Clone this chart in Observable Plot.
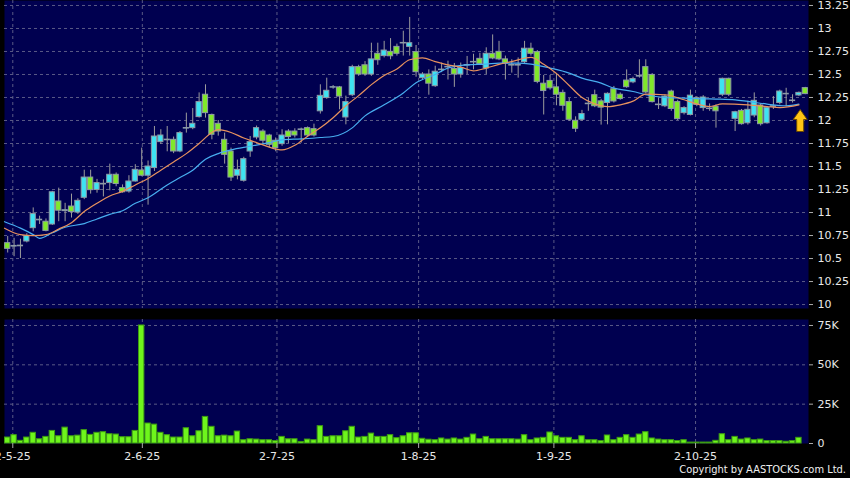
<!DOCTYPE html>
<html><head><meta charset="utf-8">
<script src="https://cdn.jsdelivr.net/npm/d3@7"></script>
<script src="https://cdn.jsdelivr.net/npm/@observablehq/plot@0.6"></script>
<style>
html,body{margin:0;padding:0;background:#000;}
#wrap{position:relative;width:850px;height:478px;overflow:hidden;background:#000;}
#wrap svg{display:block;}
#copy{position:absolute;right:4px;top:463px;color:#f0f0f0;font-size:11px;line-height:13px;font-family:"DejaVu Sans Condensed","DejaVu Sans",sans-serif;white-space:nowrap;}
</style></head><body><div id="wrap"><div id="copy">Copyright by AASTOCKS.com Ltd.</div></div>
<script>
// ---- data (price in HKD, volume in thousands) ----
const opens = [10.667,10.63,10.64,10.685,10.83,10.915,10.90,10.87,11.12,11.015,
11.065,11.0,11.16,11.38,11.245,11.305,11.32,11.41,11.265,11.228,
11.337,11.457,11.40,11.483,11.765,11.785,11.79,11.663,11.912,11.917,
12.037,12.28,12.06,11.964,11.79,11.663,11.40,11.345,11.663,11.815,
11.88,11.837,11.78,11.743,11.88,11.88,11.897,11.917,11.906,12.10,
12.244,12.357,12.36,12.033,12.275,12.58,12.60,12.50,12.725,12.70,
12.746,12.80,12.837,12.80,12.743,12.46,12.50,12.373,12.547,12.577,
12.56,12.50,12.597,12.637,12.67,12.565,12.725,12.746,12.664,12.603,
12.597,12.634,12.78,12.743,12.40,12.43,12.36,12.30,12.20,11.997,
12.008,12.177,12.275,12.208,12.19,12.34,12.28,12.434,12.415,12.477,
12.58,12.495,12.173,12.155,12.315,12.20,12.08,12.06,12.243,12.135,
12.124,12.15,12.28,12.453,12.018,12.105,11.97,12.054,12.163,11.97,
12.149,12.19,12.284,12.211,12.272,12.352];
const closes = [10.605,10.637,10.633,10.745,10.983,10.922,10.80,11.22,11.02,11.025,
11.005,11.127,11.38,11.243,11.32,11.312,11.41,11.31,11.22,11.337,
11.464,11.40,11.50,11.826,11.837,11.792,11.663,11.863,11.918,11.964,
12.20,12.08,11.845,11.88,11.627,11.38,11.464,11.58,11.765,11.917,
11.78,11.736,11.70,11.837,11.82,11.837,11.903,11.837,11.837,12.268,
12.323,12.362,12.26,12.20,12.58,12.50,12.50,12.664,12.655,12.76,
12.698,12.725,12.843,12.84,12.525,12.50,12.40,12.53,12.553,12.583,
12.50,12.57,12.603,12.631,12.613,12.725,12.674,12.664,12.62,12.597,
12.603,12.78,12.725,12.42,12.32,12.35,12.28,12.16,12.008,11.91,
12.07,12.183,12.155,12.14,12.29,12.207,12.233,12.362,12.45,12.483,
12.305,12.20,12.167,12.26,12.125,12.015,12.135,12.27,12.17,12.25,
12.13,12.10,12.453,12.28,12.09,11.96,12.116,12.214,11.96,12.135,
12.155,12.315,12.29,12.217,12.30,12.287];
const highs = [10.74,10.72,10.71,10.77,11.05,10.96,10.93,11.23,11.265,11.10,
11.20,11.15,11.46,11.46,11.36,11.355,11.526,11.43,11.30,11.40,
11.52,11.70,11.56,11.935,11.90,11.935,11.82,11.88,12.08,12.13,
12.30,12.388,12.07,12.00,11.863,11.70,11.57,11.60,11.826,11.94,
11.90,11.85,11.81,11.90,11.90,11.91,11.917,11.93,11.96,12.388,
12.46,12.38,12.37,12.265,12.60,12.60,12.64,12.84,12.84,12.86,
12.89,12.83,12.97,13.12,12.815,12.52,12.55,12.59,12.624,12.645,
12.62,12.624,12.696,12.72,12.73,12.79,12.93,12.86,12.70,12.66,
12.68,12.86,12.84,12.76,12.49,12.49,12.50,12.33,12.24,12.04,
12.11,12.24,12.33,12.23,12.30,12.37,12.30,12.55,12.47,12.66,
12.66,12.51,12.24,12.28,12.33,12.22,12.15,12.33,12.26,12.27,
12.18,12.17,12.46,12.46,12.10,12.12,12.21,12.30,12.18,12.15,
12.26,12.33,12.35,12.28,12.31,12.36];
const lows = [10.56,10.52,10.50,10.67,10.79,10.87,10.79,10.86,10.90,10.90,
10.94,10.98,11.14,11.20,11.21,11.17,11.236,11.28,11.21,11.21,
11.33,11.39,11.08,11.446,11.74,11.66,11.64,11.65,11.863,11.90,
12.026,12.026,11.79,11.83,11.526,11.337,11.355,11.33,11.60,11.79,
11.75,11.70,11.66,11.72,11.75,11.81,11.754,11.82,11.82,12.07,
12.23,12.34,12.116,11.953,12.26,12.48,12.48,12.48,12.60,12.68,
12.66,12.70,12.70,12.70,12.47,12.44,12.275,12.36,12.52,12.44,
12.36,12.46,12.50,12.55,12.60,12.50,12.66,12.65,12.44,12.515,
12.46,12.62,12.70,12.40,12.06,12.33,12.16,12.10,11.99,11.87,
11.99,12.10,12.14,11.95,11.953,12.19,12.22,12.35,12.40,12.46,
12.29,12.19,12.12,12.14,12.10,12.00,12.06,12.05,12.15,12.10,
12.10,11.917,12.26,12.26,11.88,11.95,11.95,12.03,11.94,11.96,
12.12,12.17,12.15,12.19,12.26,12.28];
const volumesK = [3.8,5.3,1.7,3.8,6.8,2.7,4.2,8.0,4.6,10.1,
4.6,5.0,8.5,5.5,6.8,7.2,5.9,5.7,4.0,4.0,
8.0,75.0,12.7,12.0,6.8,5.3,3.8,3.8,9.7,4.6,
7.8,16.9,10.6,4.6,5.0,4.6,7.6,2.1,2.7,2.5,
2.1,2.1,1.5,4.2,2.7,2.7,1.0,2.5,2.1,11.0,
4.2,4.6,4.6,7.8,10.6,3.8,4.2,6.3,4.2,4.2,
5.3,3.4,4.6,6.5,6.5,3.0,2.4,2.1,3.2,2.5,
3.2,2.5,3.6,5.7,2.7,4.2,2.7,2.7,2.7,2.7,
2.5,5.3,2.1,3.2,3.6,7.0,4.6,3.6,3.6,2.1,
4.6,2.1,2.1,1.5,5.1,2.1,3.6,5.3,3.6,5.7,
7.2,3.2,2.5,2.1,2.1,1.5,2.1,0.6,0.6,0.6,
0.6,1.7,5.9,2.1,4.2,2.5,3.2,2.1,2.5,1.5,
1.5,1.5,1.1,1.5,3.6,0];
// moving averages: [candle index, value]
const ma10Idx = [-0.5,2,4,6,8,10,12,14,16,18,20,22,24,26,28,30,32,33,35,37,39,41,43,45,47,49,51,53,55,57,59,61,63,65,67,69,71,73,75,77,79,82,84,86,88,90,92,94,96,98,100,103,106,108,110,112,116,119,121,124];
const ma10Val = [10.83,10.76,10.75,10.76,10.82,10.89,11.01,11.10,11.18,11.23,11.30,11.37,11.46,11.55,11.64,11.75,11.87,11.90,11.87,11.81,11.76,11.71,11.68,11.73,11.83,11.92,12.03,12.16,12.27,12.39,12.49,12.56,12.66,12.68,12.64,12.605,12.58,12.54,12.57,12.61,12.64,12.685,12.61,12.51,12.38,12.25,12.18,12.15,12.17,12.21,12.287,12.28,12.225,12.18,12.152,12.18,12.17,12.152,12.14,12.17];
const ma20Idx = [-0.5,2,4,5,7,9,12,14,16,18,20,22,25,27,29,31,33,35,38,41,43,46,49,51,54,56,59,62,64,67,69,72,75,77,80,82,85,88,90,93,95,98,100,103,106,109,111,114,116,119,122,124];
const ma20Val = [10.90,10.83,10.76,10.72,10.78,10.84,10.88,10.93,10.98,11.02,11.10,11.16,11.30,11.38,11.46,11.58,11.64,11.68,11.72,11.76,11.79,11.80,11.815,11.826,11.92,12.05,12.17,12.30,12.41,12.50,12.57,12.605,12.613,12.624,12.624,12.613,12.57,12.515,12.46,12.406,12.352,12.315,12.28,12.25,12.243,12.236,12.233,12.225,12.207,12.178,12.16,12.178];
const tickIdx = [0.8,21.1,42.2,64.4,85.6,107.8];
const tickLabels = ["2-5-25","2-6-25","2-7-25","1-8-25","1-9-25","2-10-25"];
const priceTicks = [10,10.25,10.5,10.75,11,11.25,11.5,11.75,12,12.25,12.5,12.75,13,13.25];
const volTicks = [0,25,50,75];
const arrowAt = [{i: 124.2, v: 12.0}];

// ---- build ----
const N = opens.length;
const candles = opens.map((o, i) => ({i, open: o, close: closes[i], high: highs[i], low: lows[i], up: closes[i] >= o}));
const vols = volumesK.map((v, i) => ({i, v}));
const ma10 = ma10Idx.map((i, k) => ({i, v: ma10Val[k]}));
const ma20 = ma20Idx.map((i, k) => ({i, v: ma20Val[k]}));
const labelOf = new Map(tickIdx.map((t, k) => [t, tickLabels[k]]));
const xDomain = [-0.5, N - 0.5];
const NAVY = "#000050";
const grid = {stroke: "#5a5a86", strokeDasharray: "3,3", strokeWidth: 1};
const style = {background: "transparent", color: "#e8e8e8", fontFamily: "DejaVu Sans", fontSize: "11px", overflow: "visible"};

const arrowSymbol = {draw(ctx) {
  ctx.moveTo(0, -11); ctx.lineTo(7, -1); ctx.lineTo(3.5, -1); ctx.lineTo(3.5, 11);
  ctx.lineTo(-3.5, 11); ctx.lineTo(-3.5, -1); ctx.lineTo(-7, -1); ctx.closePath();
}};

const price = Plot.plot({
  width: 850, height: 310,
  marginLeft: 4, marginRight: 42, marginTop: 0, marginBottom: 2,
  style,
  x: {domain: xDomain},
  y: {domain: [9.957, 13.304]},
  marks: [
    Plot.frame({fill: NAVY}),
    Plot.ruleY(priceTicks, grid),
    Plot.ruleX(tickIdx, grid),
    Plot.ruleX(candles, {x: "i", y1: "low", y2: "high", stroke: "#9c9c9c", strokeWidth: 1}),
    Plot.rect(candles, {x1: d => d.i - 0.5, x2: d => d.i + 0.5, y1: "open", y2: "close",
      insetLeft: 0.6, insetRight: 0.6,
      fill: d => d.up ? "#3ee3f2" : "#80e82a", stroke: "#8e9aa6", strokeWidth: 1}),
    Plot.line(ma20, {x: "i", y: "v", stroke: "#48aef0", strokeWidth: 1.2, curve: "monotone-x"}),
    Plot.line(ma10, {x: "i", y: "v", stroke: "#e8925e", strokeWidth: 1.2, curve: "monotone-x"}),
    Plot.dot(arrowAt, {x: "i", y: "v", symbol: arrowSymbol, r: 5, fill: "#ffc414", stroke: "#6a4800", strokeWidth: 1}),
    Plot.axisY(priceTicks, {anchor: "right", tickSize: 4, tickPadding: 5, tickFormat: d => String(d), label: null, stroke: "#aaaaaa"}),
    Plot.axisX([], {label: null})
  ]
});

const volume = Plot.plot({
  width: 850, height: 168,
  marginLeft: 4, marginRight: 42, marginTop: 9, marginBottom: 35,
  style,
  x: {domain: xDomain},
  y: {domain: [0, 78.8]},
  marks: [
    Plot.frame({fill: NAVY}),
    Plot.ruleY(volTicks.filter(v => v > 0), grid),
    Plot.ruleX(tickIdx, grid),
    Plot.rectY(vols, {x1: d => d.i - 0.5, x2: d => d.i + 0.5, y: "v", insetLeft: 0.5, insetRight: 0.5,
      fill: "#6ef51c", stroke: "#3e9c12", strokeWidth: 1}),
    Plot.axisY(volTicks, {anchor: "right", tickSize: 4, tickPadding: 5, tickFormat: d => d === 0 ? "0" : d + "K", label: null, stroke: "#aaaaaa"}),
    Plot.axisX(tickIdx, {anchor: "bottom", tickSize: 5, tickPadding: 4, tickFormat: d => labelOf.get(d), label: null, stroke: "#aaaaaa"})
  ]
});

const wrap = document.getElementById("wrap");
wrap.insertBefore(volume, wrap.firstChild);
wrap.insertBefore(price, wrap.firstChild);
</script>
</body></html>
